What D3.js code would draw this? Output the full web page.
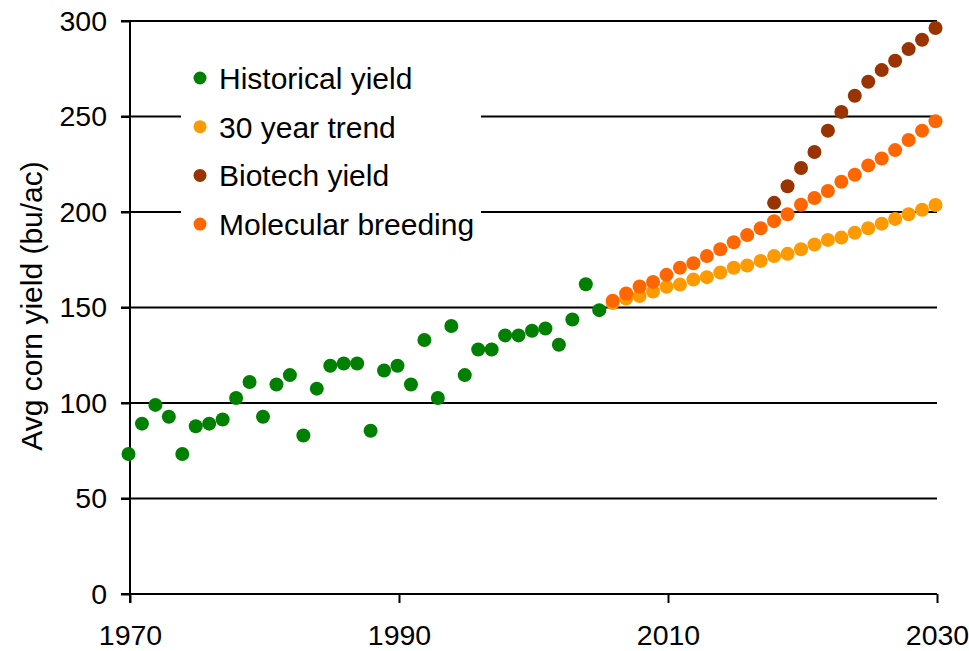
<!DOCTYPE html>
<html>
  <head>
    <meta charset="utf-8">
    <title>Avg corn yield</title>
    <script src="https://d3js.org/d3.v7.min.js"></script>
    <style>
      body { margin: 0; background: #fff; }
      svg { font-family: "Liberation Sans", Arial, sans-serif; }
      .axis path { display: none; }
      .axis line { stroke: #000; stroke-width: 2; }
      .axis text { font-size: 28.5px; fill: #000; }
      .grid { stroke: #000; stroke-width: 2; }
      .label { font-size: 30px; fill: #000; }
    </style>
  </head>
  <body>
    <svg id="chart" width="969" height="651"></svg>
    <script>
      // data
      histYears = d3.range(1970, 2006);
      histYield = [73.3, 89.2, 99, 92.8, 73.3, 87.8, 89.2, 91.4, 102.6, 111,
        92.8, 109.7, 114.6, 83, 107.5, 119.5, 120.7, 120.7, 85.5, 117,
        119.5, 109.7, 133, 102.6, 140.3, 114.6, 128, 128, 135.4, 135.4,
        137.8, 139, 130.5, 143.7, 162.2, 148.6];
      projYears = d3.range(2006, 2031);
      trendYield = [152.3, 154.7, 156, 158.4, 160.8, 162, 164.6, 165.9, 168.3, 170.8,
        172, 174.4, 176.9, 178.1, 180.5, 183, 185.4, 186.6, 189.1, 191.5,
        193.9, 196.4, 198.8, 201.2, 203.7];
      molecularYield = [153.5, 157.3, 161, 163.4, 167.1, 170.8, 173.2, 176.9, 180.5, 184.2,
        187.9, 191.5, 195.2, 198.8, 203.8, 207.3, 211, 215.8, 219.5, 224.4,
        228, 232.4, 237.7, 242.6, 247.5];
      biotechYears = d3.range(2018, 2031);
      biotechYield = [204.8, 213.5, 223, 231.4, 242.6, 252.4, 260.9, 268.2, 274.3,
        279.2, 285.3, 290.2, 296.3];
      xTicks = [1970, 1990, 2010, 2030];
      yTicks = [0, 50, 100, 150, 200, 250, 300];
      seriesNames = ["Historical yield", "30 year trend", "Biotech yield", "Molecular breeding"];
      seriesColours = ["#008000", "#ff9900", "#993300", "#ff6600"];

      chart = d3.select("#chart");
      margin = { top: 21, right: 32, bottom: 57, left: 130 };
      width = 969;
      height = 651;

      x = d3.scaleLinear()
        .domain([1970, 2030])
        .range([margin.left, width - margin.right]);
      y = d3.scaleLinear()
        .domain([0, 300])
        .range([height - margin.bottom, margin.top]);

      // gridlines
      chart.append("g")
        .selectAll("line")
          .data(yTicks)
        .enter().append("line")
          .classed("grid", true)
          .attr("x1", x.range()[0] - 9)
          .attr("x2", x.range()[1])
          .attr("y1", function(d) { return y(d); })
          .attr("y2", function(d) { return y(d); });

      // axes
      xAxis = d3.axisBottom(x)
        .tickValues(xTicks)
        .tickFormat(d3.format("d"))
        .tickSize(9)
        .tickPadding(22);
      chart.append("g")
        .classed("axis", true)
        .attr("transform", "translate(0, " + y(0) + ")")
        .call(xAxis);
      yAxis = d3.axisLeft(y)
        .tickValues(yTicks)
        .tickSize(9)
        .tickPadding(14);
      chart.append("g")
        .classed("axis", true)
        .attr("transform", "translate(" + x(1970) + ", 0)")
        .call(yAxis);
      chart.append("line")
        .classed("grid", true)
        .attr("x1", x(1970))
        .attr("x2", x(1970))
        .attr("y1", y(300))
        .attr("y2", y(0) + 9);

      chart.append("text")
        .classed("label", true)
        .attr("text-anchor", "middle")
        .attr("transform", "translate(42, 306) rotate(-90)")
        .text("Avg corn yield (bu/ac)");

      // points (excel plots them a touch left of the ticks)
      series = [
        { years: histYears, values: histYield },
        { years: projYears, values: trendYield },
        { years: biotechYears, values: biotechYield },
        { years: projYears, values: molecularYield }
      ];
      series.forEach(function(s, i) {
        chart.append("g")
          .attr("transform", "translate(-1.5, 0)")
          .selectAll("circle")
            .data(s.values)
          .enter().append("circle")
            .attr("cx", function(d, j) { return x(s.years[j]); })
            .attr("cy", function(d) { return y(d); })
            .attr("r", 7)
            .style("fill", seriesColours[i]);
      });

      // legend
      legend = chart.append("g");
      legend.append("rect")
        .attr("x", 181)
        .attr("y", 48)
        .attr("width", 300)
        .attr("height", 200)
        .style("fill", "#fff");
      items = legend.selectAll(".item")
          .data(seriesNames)
        .enter().append("g")
          .classed("item", true)
          .attr("transform", function(d, i) { return "translate(200, " + (78 + i * 48.7) + ")"; });
      items.append("circle")
        .attr("r", 6.5)
        .style("fill", function(d, i) { return seriesColours[i]; });
      items.append("text")
        .classed("label", true)
        .attr("x", 19)
        .attr("dy", "0.36em")
        .text(function(d) { return d; });
    </script>
  </body>
</html>
